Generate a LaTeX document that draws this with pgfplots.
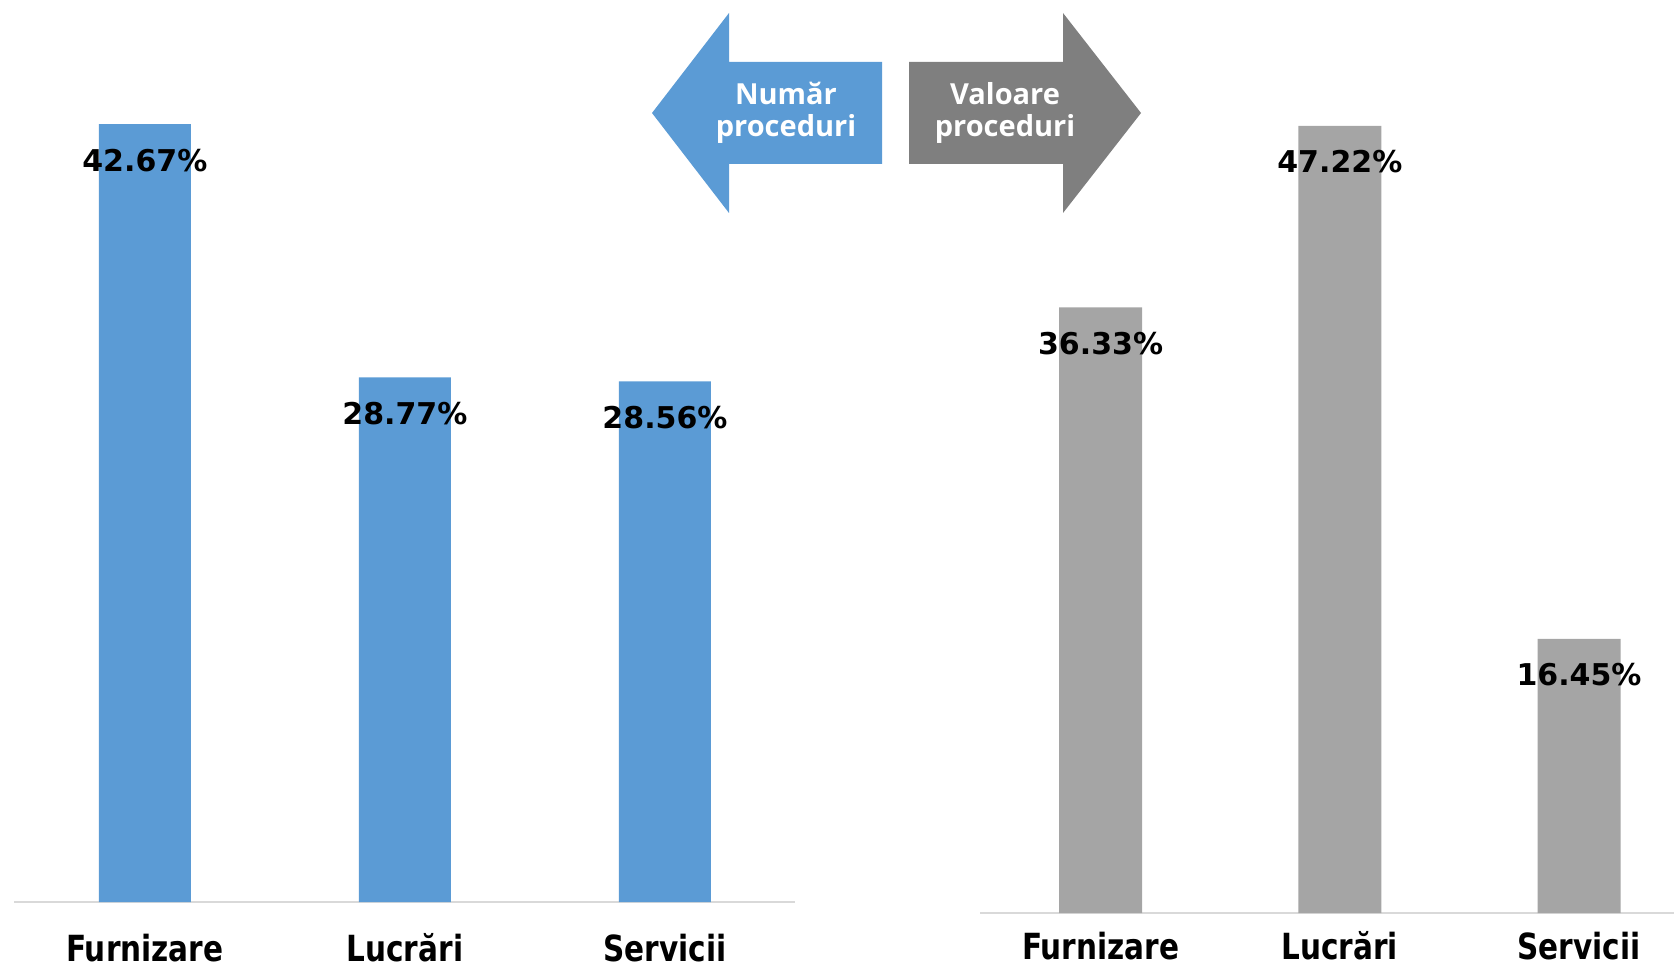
\documentclass[border=0pt]{standalone}
\usepackage{pgfplots}
\pgfplotsset{compat=1.18}
\usepackage{fontspec}
\setmainfont{DejaVu Sans}
\newfontfamily\catfont[FakeStretch=0.82]{DejaVu Sans}
\newfontfamily\arrfont{Open Sans}
\definecolor{barblue}{HTML}{5B9BD5}
\definecolor{bargray}{HTML}{A5A5A5}
\definecolor{arrgray}{HTML}{7F7F7F}
\definecolor{linegray}{HTML}{D9D9D9}
\pgfplotsset{
  mybars/.style={
    ybar, scale only axis, ymin=0, clip=false,
    axis y line=none, axis x line=bottom,
    x axis line style={-, draw=linegray, line width=1pt},
    xtick=data, major tick length=0pt,
    xticklabels={Furnizare, Lucrări, Servicii},
    xticklabel style={font=\catfont\bfseries\fontsize{18}{20}\selectfont, anchor=base, inner sep=0.5pt},
    nodes near coords, point meta=explicit symbolic,
    every node near coord/.append style={anchor=center, yshift=-18pt,
      font=\bfseries\fontsize{15}{18}\selectfont, text=black},
  }
}
\begin{document}
\begin{tikzpicture}[x=1pt,y=1pt]
\useasboundingbox (0,0) rectangle (837,485.5);
% left chart: number of procedures
\begin{axis}[mybars, at={(7pt,34.5pt)}, anchor=south west,
  width=390.5pt, height=410.2pt, xmin=-0.503, xmax=2.5, ymax=45, bar width=46pt,
  xticklabel style={yshift=-29.5pt}]
\addplot[fill=barblue, draw=none] coordinates {(0,42.67)[42.67\%] (1,28.77)[28.77\%] (2,28.56)[28.56\%]};
\end{axis}
% right chart: value of procedures
\begin{axis}[mybars, at={(490pt,29pt)}, anchor=south west,
  width=347pt, height=416.75pt, xmin=-0.504, xmax=2.397, ymax=50, bar width=41.5pt,
  xticklabel style={yshift=-23pt}]
\addplot[fill=bargray, draw=none] coordinates {(0,36.33)[36.33\%] (1,47.22)[47.22\%] (2,16.45)[16.45\%]};
\end{axis}
% arrows
\fill[barblue] (326,429) -- (364.5,479) -- (364.5,454.5) -- (441,454.5) -- (441,403.5) -- (364.5,403.5) -- (364.5,379) -- cycle;
\fill[arrgray] (454.5,454.5) -- (531.5,454.5) -- (531.5,479) -- (570.5,429) -- (531.5,379) -- (531.5,403.5) -- (454.5,403.5) -- cycle;
\node[align=center, text=white, font=\arrfont\bfseries\fontsize{14.5}{16}\selectfont] at (393,429) {Număr\\proceduri};
\node[align=center, text=white, font=\arrfont\bfseries\fontsize{14.5}{16}\selectfont] at (502.5,429) {Valoare\\proceduri};
\end{tikzpicture}
\end{document}
